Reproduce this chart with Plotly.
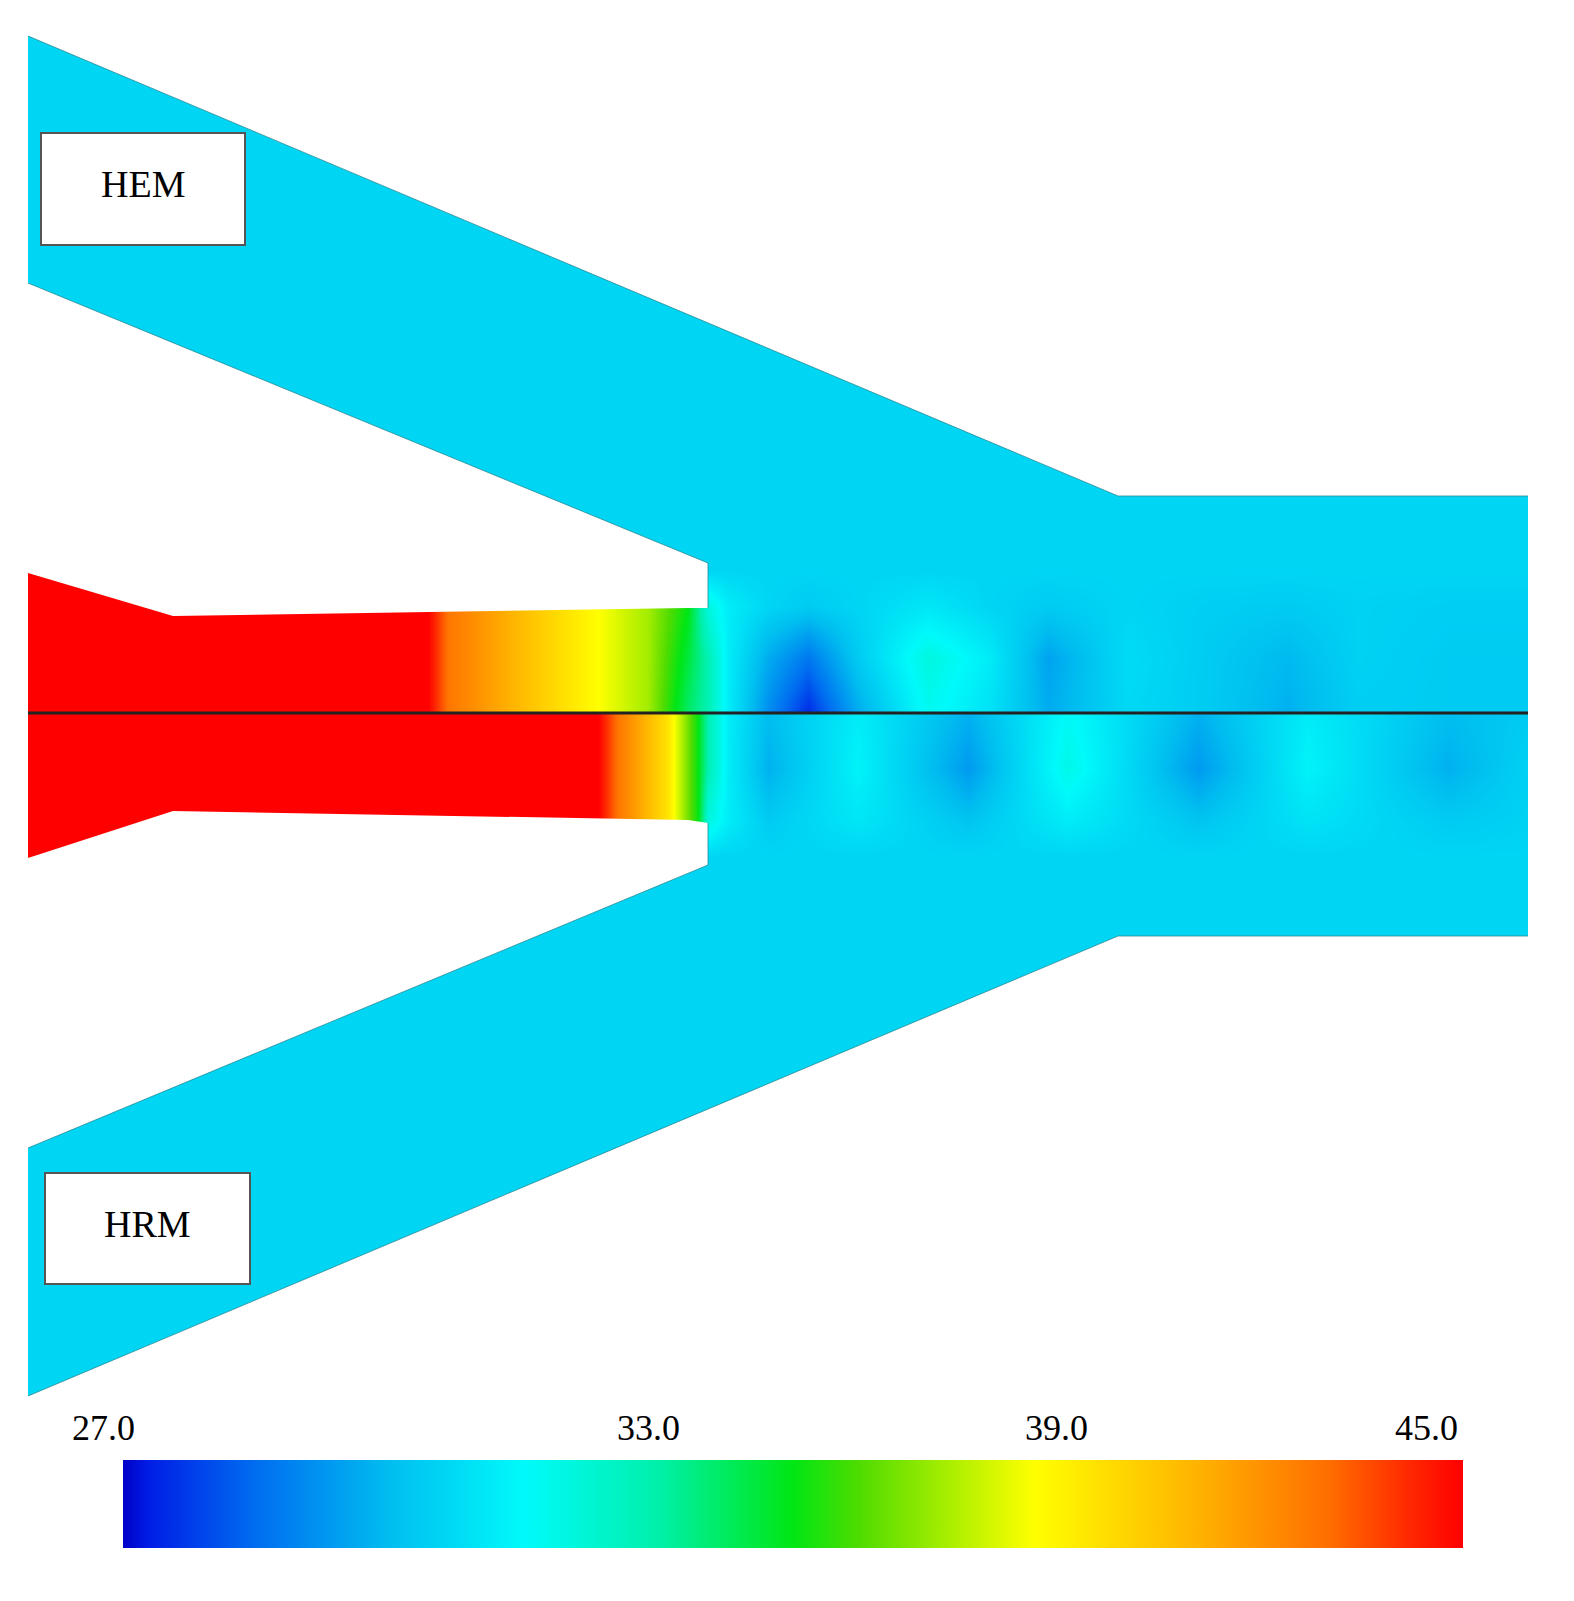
import plotly.graph_objects as go

# temperature field (pixel frame of the picture, y downwards)
up_x = [20, 165, 420, 440, 560, 640, 680, 700, 720, 760, 800, 850, 920, 980, 1040, 1120, 1200, 1280, 1350, 1440, 1520]
up_y = [28, 480, 554, 562, 598, 650, 704, 705]
up_far = [31.3] * len(up_x)
up_lip = [45, 45] + [31.3] * (len(up_x) - 2)
up_wall = [45, 45, 45, 43, 40, 38, 36, 33, 32, 31.3, 31, 31.3, 31.8, 31.3, 31, 31.3, 31.1, 31, 31.2, 31.1, 31.1]
up_mid = [45, 45, 45, 43, 40, 38, 35.5, 34, 32, 30.2, 29, 31, 33, 32, 30, 31.5, 31, 30.5, 31.2, 31, 31]
up_axis = [45, 45, 45, 43, 40, 38, 35, 34, 32, 29.5, 27.6, 30.2, 32.6, 31.7, 30.2, 31.4, 31, 30.3, 31.1, 31, 31]

low_x = [20, 165, 590, 610, 660, 690, 700, 720, 760, 850, 960, 1060, 1190, 1300, 1440, 1520]
low_y = [705, 706, 760, 812, 848, 857, 930, 1388]
low_axis = [45, 45, 45, 43, 40, 36, 34, 32, 30.6, 32, 30.3, 32.5, 30.3, 32, 30.6, 31]
low_mid = [45, 45, 45, 43, 40, 36, 34, 32, 30.3, 32.2, 29.8, 32.8, 29.8, 32.2, 30.3, 31.2]
low_wall = [45, 45, 45, 43, 40, 36, 33, 32, 31, 31.8, 30.8, 32, 30.8, 31.7, 31, 31.2]
low_lip = [45, 45] + [31.3] * (len(low_x) - 2)
low_far = [31.3] * len(low_x)

# flow-domain walls
top_mask_x = [0, 1574, 1574, 1110, 20, 0]
top_mask_y = [0, 0, 488, 488, 28, 28]
bot_mask_x = [0, 20, 1110, 1574, 1574, 0]
bot_mask_y = [1388, 1388, 928, 928, 1601, 1601]
gap_up_x = [0, 20, 700, 700, 680, 165, 20, 0]
gap_up_y = [275, 275, 555, 600, 600, 608, 565, 565]
gap_lo_x = [0, 20, 700, 700, 680, 165, 20, 0]
gap_lo_y = [1140, 1140, 857, 815, 812, 803, 850, 850]
right_mask_x = [1520, 1574, 1574, 1520]
right_mask_y = [0, 0, 1601, 1601]
left_mask_x = [0, 20, 20, 0]
left_mask_y = [0, 0, 1601, 1601]

# thin outlines of the arms
edge_up_x = [20, 1110, 1520, None, 20, 700, 700]
edge_up_y = [28, 488, 488, None, 275, 555, 600]
edge_lo_x = [20, 1110, 1520, None, 20, 700, 700]
edge_lo_y = [1388, 928, 928, None, 1140, 857, 815]

tick_labels = ["27.0", "33.0", "39.0", "45.0"]
tick_px = [95, 640, 1048, 1418]

jet = [[0, "rgb(0,0,200)"], [0.02, "rgb(0,30,230)"], [0.1, "rgb(0,110,240)"],
       [0.2, "rgb(0,190,240)"], [0.3, "rgb(0,250,250)"], [0.4, "rgb(0,240,170)"],
       [0.5, "rgb(0,230,20)"], [0.55, "rgb(80,220,0)"], [0.68, "rgb(255,255,0)"],
       [0.8, "rgb(255,180,0)"], [0.9, "rgb(255,110,0)"], [0.96, "rgb(255,40,0)"],
       [1, "rgb(255,0,0)"]]

fig = go.Figure()
fig.add_trace(go.Heatmap(
    x=low_x, y=low_y, z=[low_axis, low_axis, low_mid, low_wall, low_lip, low_far, low_far, low_far],
    zmin=27, zmax=45, colorscale=jet, zsmooth="best", showscale=False))
fig.add_trace(go.Heatmap(
    x=up_x, y=up_y, z=[up_far, up_far, up_far, up_lip, up_wall, up_mid, up_axis, up_axis],
    zmin=27, zmax=45, colorscale=jet, zsmooth="best",
    colorbar=dict(orientation="h", x=0.4987, xanchor="center", y=0.032, yanchor="bottom",
                  len=1360 / 1574, lenmode="fraction", thickness=88, outlinewidth=0,
                  showticklabels=False, ticks="")))

for mx, my in [(top_mask_x, top_mask_y), (bot_mask_x, bot_mask_y), (gap_up_x, gap_up_y),
               (gap_lo_x, gap_lo_y), (right_mask_x, right_mask_y), (left_mask_x, left_mask_y)]:
    fig.add_trace(go.Scatter(x=mx, y=my, fill="toself", fillcolor="white", mode="lines",
                             line=dict(width=0), hoverinfo="skip", showlegend=False))

for ex, ey in [(edge_up_x, edge_up_y), (edge_lo_x, edge_lo_y)]:
    fig.add_trace(go.Scatter(x=ex, y=ey, mode="lines", hoverinfo="skip", showlegend=False,
                             line=dict(color="rgba(40,140,150,0.8)", width=1)))

fig.add_trace(go.Scatter(x=[20, 1520], y=[705, 705], mode="lines",
                         line=dict(color="#222", width=3), showlegend=False))

for (x0, y0, x1, y1, txt) in [(33, 125, 237, 237, "HEM"), (37, 1165, 242, 1276, "HRM")]:
    fig.add_shape(type="rect", x0=x0, y0=y0, x1=x1, y1=y1, fillcolor="white",
                  line=dict(color="#555", width=2))
    fig.add_annotation(x=(x0 + x1) / 2, y=(y0 + y1) / 2 - 5, text=txt, showarrow=False,
                       font=dict(family="Liberation Serif", size=38, color="black"))

for px, t in zip(tick_px, tick_labels):
    fig.add_annotation(x=px, y=1420, text=t, showarrow=False,
                       font=dict(family="Liberation Serif", size=36, color="black"))

fig.update_xaxes(range=[0, 1574], visible=False, fixedrange=True)
fig.update_yaxes(range=[1601, 0], visible=False, fixedrange=True)
fig.update_layout(width=1574, height=1601, margin=dict(l=0, r=0, t=0, b=0),
                  plot_bgcolor="white", paper_bgcolor="white", showlegend=False)
fig.write_html("out.html")
